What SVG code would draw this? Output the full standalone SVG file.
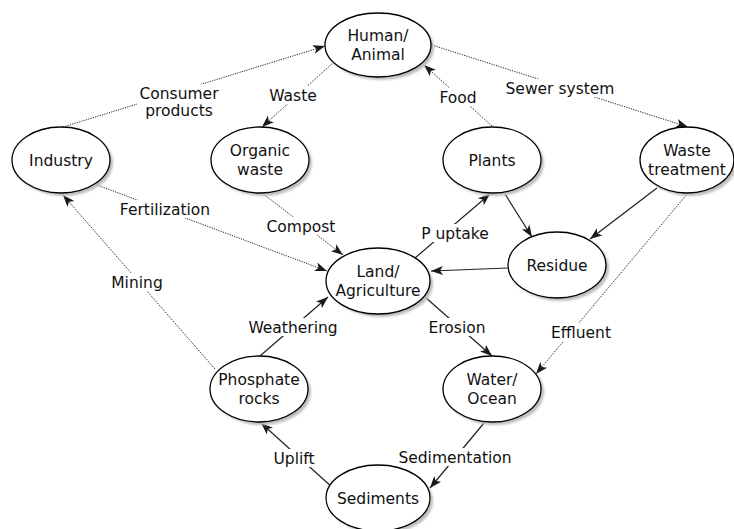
<svg xmlns="http://www.w3.org/2000/svg" width="734" height="529" viewBox="0 0 734 529">
<defs>
<filter id="blur" x="-20%" y="-20%" width="140%" height="140%"><feGaussianBlur stdDeviation="1"/></filter>
<marker id="arr" markerUnits="userSpaceOnUse" markerWidth="13" markerHeight="11" refX="12" refY="5.5" orient="auto"><path d="M0,1 L12,5.5 L0,10 L3,5.5 z" fill="#1a1a1a"/></marker>
</defs>
<style>
.sh{fill:#bdbdbd;filter:url(#blur)}
.nd{fill:#fff;stroke:#000;stroke-width:1.3}
text{font-family:"DejaVu Sans",Verdana,sans-serif;font-size:15.5px;fill:#111;text-anchor:middle}
.s{stroke:#222;stroke-width:1.2;fill:none;marker-end:url(#arr)}
.d{stroke:#222;stroke-width:1;stroke-dasharray:1.2,1.2;fill:none;marker-end:url(#arr)}
.lb{fill:#fff}
</style>
<rect width="734" height="529" fill="#fff"/>
<g id="connectors">
<line class="d" x1="63" y1="127" x2="325" y2="46"/>
<line class="d" x1="334" y1="62" x2="262" y2="127"/>
<line class="d" x1="432" y1="45" x2="688" y2="127"/>
<line class="d" x1="492" y1="126" x2="424" y2="65"/>
<line class="d" x1="262" y1="193" x2="343" y2="255"/>
<line class="d" x1="97" y1="185" x2="327" y2="271"/>
<line class="d" x1="215" y1="369" x2="63" y2="195"/>
<line class="s" x1="260" y1="356" x2="328" y2="297"/>
<line class="s" x1="415" y1="258" x2="490" y2="194"/>
<line class="s" x1="505" y1="194" x2="532" y2="237"/>
<line class="s" x1="657" y1="188" x2="590" y2="239"/>
<line class="s" x1="508" y1="268" x2="431" y2="271"/>
<line class="s" x1="425" y1="297" x2="492" y2="356"/>
<line class="d" x1="688" y1="193" x2="536" y2="374"/>
<line class="s" x1="484" y1="423" x2="430" y2="488"/>
<line class="s" x1="333" y1="488" x2="261" y2="423"/>
<rect class="lb" x="137" y="84" width="84" height="34"/>
<text x="179" y="98.5">Consumer</text><text x="179" y="116">products</text>
<rect class="lb" x="267" y="86" width="52" height="18"/><text x="293" y="100.5">Waste</text>
<rect class="lb" x="503" y="79" width="114" height="18"/><text x="560" y="93.5">Sewer system</text>
<rect class="lb" x="438" y="88" width="40" height="18"/><text x="458" y="102.5">Food</text>
<rect class="lb" x="264" y="217" width="74" height="18"/><text x="301" y="231.5">Compost</text>
<rect class="lb" x="117" y="200" width="96" height="18"/><text x="165" y="214.5">Fertilization</text>
<rect class="lb" x="110" y="273" width="54" height="18"/><text x="137" y="287.5">Mining</text>
<rect class="lb" x="246" y="318" width="94" height="18"/><text x="293" y="332.5">Weathering</text>
<rect class="lb" x="418" y="224" width="74" height="18"/><text x="455" y="238.5">P uptake</text>
<rect class="lb" x="426" y="318" width="62" height="18"/><text x="457" y="332.5">Erosion</text>
<rect class="lb" x="549" y="323" width="64" height="18"/><text x="581" y="337.5">Effluent</text>
<rect class="lb" x="396" y="448" width="118" height="18"/><text x="455" y="462.5">Sedimentation</text>
<rect class="lb" x="271" y="449" width="46" height="18"/><text x="294" y="463.5">Uplift</text>
</g>
<g id="human">
<ellipse class="sh" cx="381" cy="48" rx="53" ry="32"/><ellipse class="nd" cx="378" cy="45" rx="53" ry="32"/>
<text x="378" y="41">Human/</text><text x="378" y="60">Animal</text></g>
<g id="industry">
<ellipse class="sh" cx="64" cy="163" rx="49" ry="33"/><ellipse class="nd" cx="61" cy="160" rx="49" ry="33"/>
<text x="61" y="166">Industry</text></g>
<g id="organic">
<ellipse class="sh" cx="263" cy="163" rx="49" ry="33"/><ellipse class="nd" cx="260" cy="160" rx="49" ry="33"/>
<text x="260" y="156">Organic</text><text x="260" y="175">waste</text></g>
<g id="plants">
<ellipse class="sh" cx="495" cy="163" rx="49" ry="33"/><ellipse class="nd" cx="492" cy="160" rx="49" ry="33"/>
<text x="492" y="166">Plants</text></g>
<g id="wastetreatment">
<ellipse class="sh" cx="690" cy="163" rx="47" ry="33"/><ellipse class="nd" cx="687" cy="160" rx="47" ry="33"/>
<text x="687" y="156">Waste</text><text x="687" y="175">treatment</text></g>
<g id="land">
<ellipse class="sh" cx="381" cy="284" rx="52" ry="33"/><ellipse class="nd" cx="378" cy="281" rx="52" ry="33"/>
<text x="378" y="277">Land/</text><text x="378" y="296">Agriculture</text></g>
<g id="residue">
<ellipse class="sh" cx="560" cy="268" rx="49" ry="33"/><ellipse class="nd" cx="557" cy="265" rx="49" ry="33"/>
<text x="557" y="271">Residue</text></g>
<g id="phosphate">
<ellipse class="sh" cx="262" cy="392" rx="49" ry="33"/><ellipse class="nd" cx="259" cy="389" rx="49" ry="33"/>
<text x="259" y="385">Phosphate</text><text x="259" y="404">rocks</text></g>
<g id="water">
<ellipse class="sh" cx="495" cy="392" rx="49" ry="33"/><ellipse class="nd" cx="492" cy="389" rx="49" ry="33"/>
<text x="492" y="385">Water/</text><text x="492" y="404">Ocean</text></g>
<g id="sediments">
<ellipse class="sh" cx="381" cy="501" rx="52" ry="33"/><ellipse class="nd" cx="378" cy="498" rx="52" ry="33"/>
<text x="378" y="504">Sediments</text></g>
</svg>
